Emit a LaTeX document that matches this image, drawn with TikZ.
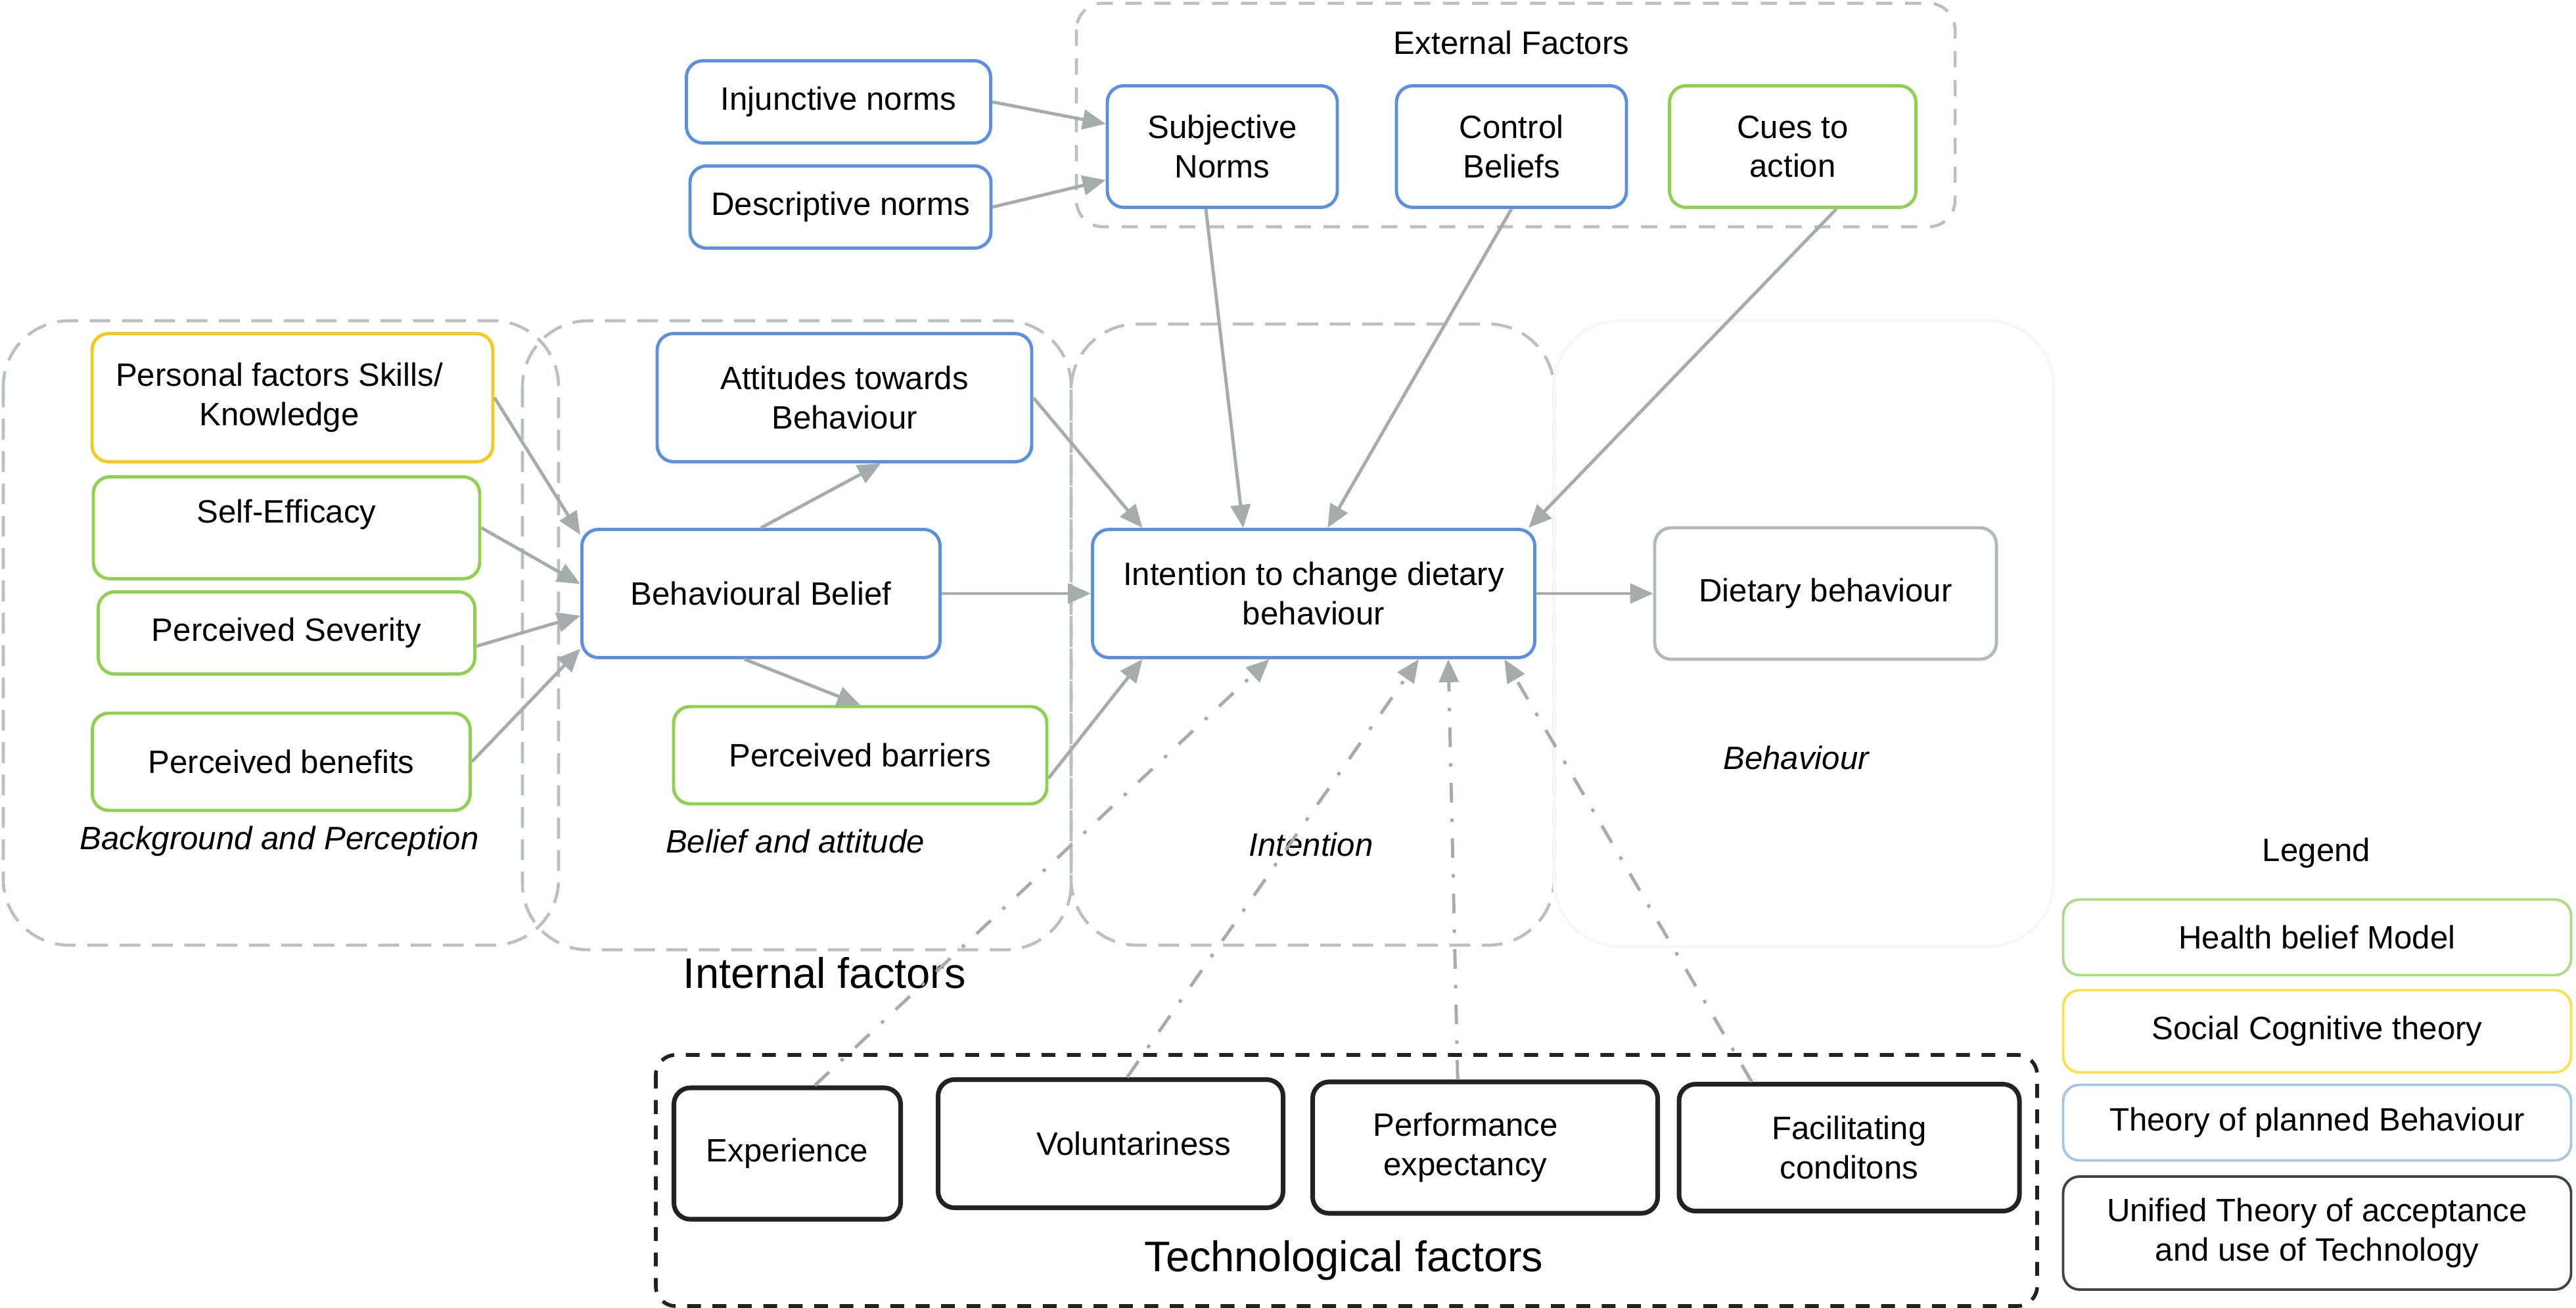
\documentclass[tikz,border=0pt]{standalone}
\usepackage{fontspec}
\setmainfont{Liberation Sans}
\usetikzlibrary{arrows.meta}
\definecolor{tpbblue}{HTML}{5B8FE0}
\definecolor{hbmgreen}{HTML}{8ED14F}
\definecolor{sctyellow}{HTML}{F7C81E}
\definecolor{linkgray}{HTML}{A6ABAB}
\definecolor{groupgray}{HTML}{BBBFBF}
\definecolor{behgray}{HTML}{B4B8B8}
\definecolor{utautblack}{HTML}{222222}
\definecolor{leggreen}{HTML}{A9DC85}
\definecolor{legyellow}{HTML}{FBE04A}
\definecolor{legblue}{HTML}{A3C5E8}
\definecolor{legdark}{HTML}{3D4444}

\begin{document}
\begin{tikzpicture}[
  >={Triangle[length=0.35cm,width=0.3cm]},
  every node/.style={font=\fontsize{14}{17}\selectfont},
  factor/.style={draw, rounded corners=0.25cm, line width=1.4pt, align=center, inner sep=2pt, fill=white},
  tpb/.style={factor, draw=tpbblue},
  hbm/.style={factor, draw=hbmgreen},
  sct/.style={factor, draw=sctyellow},
  beh/.style={factor, draw=behgray},
  utaut/.style={factor, draw=utautblack, line width=2pt},
  legbox/.style={factor, line width=1.1pt, minimum width=7.73cm},
  group/.style={draw=groupgray, line width=1.3pt, dash pattern=on 9pt off 5pt, rounded corners=1cm},
  grouplabel/.style={font=\fontsize{14}{17}\selectfont\itshape},
  biglabel/.style={font=\fontsize{18.5}{22}\selectfont},
  link/.style={draw=linkgray, line width=1.4pt, ->},
  techlink/.style={link, dash pattern=on 8.5pt off 7pt on 1.5pt off 7pt}
]
\useasboundingbox (0,0) rectangle (39.2,-19.9);

\draw[group, rounded corners=0.4cm, dash pattern=on 7pt off 5.5pt] (16.38,-0.05) rectangle (29.75,-3.45);
\draw[group] (0.05,-4.88) rectangle (8.5,-14.38);
\draw[group] (7.95,-4.88) rectangle (16.3,-14.45);
\draw[group] (16.3,-4.93) rectangle (23.65,-14.38);
\draw[draw=black!3, line width=1.3pt, rounded corners=1cm] (23.65,-4.88) rectangle (31.25,-14.4);
\draw[draw=utautblack, line width=1.6pt, dash pattern=on 6pt off 5pt, rounded corners=0.3cm] (9.98,-16.05) rectangle (31.0,-19.87);

\node (ext) at (23.0,-0.65) {External Factors};
\node[tpb, minimum width=4.63cm, minimum height=1.25cm] (inj) at (12.76,-1.55) {Injunctive norms};
\node[tpb, minimum width=4.58cm, minimum height=1.25cm] (desc) at (12.79,-3.15) {Descriptive norms};
\node[tpb, minimum width=3.5cm, minimum height=1.85cm] (subj) at (18.6,-2.23) {Subjective\\Norms};
\node[tpb, minimum width=3.5cm, minimum height=1.85cm] (ctrl) at (23.0,-2.23) {Control\\Beliefs};
\node[hbm, minimum width=3.75cm, minimum height=1.85cm] (cues) at (27.28,-2.23) {Cues to\\action};

\node[sct, minimum width=6.1cm, minimum height=1.95cm] (pers) at (4.45,-6.05) {Personal factors Skills/\hspace*{0.4cm}\\Knowledge\hspace*{0.4cm}};
\node[hbm, minimum width=5.88cm, minimum height=1.55cm, text depth=0.5cm] (self) at (4.36,-8.03) {Self-Efficacy};
\node[hbm, minimum width=5.73cm, minimum height=1.25cm] (sev) at (4.36,-9.63) {Perceived Severity};
\node[hbm, minimum width=5.75cm, minimum height=1.48cm] (ben) at (4.28,-11.59) {Perceived benefits};
\node[tpb, minimum width=5.7cm, minimum height=1.95cm] (att) at (12.85,-6.05) {Attitudes towards\\Behaviour};
\node[tpb, minimum width=5.45cm, minimum height=1.95cm] (bb) at (11.58,-9.03) {Behavioural Belief};
\node[hbm, minimum width=5.68cm, minimum height=1.48cm] (bar) at (13.09,-11.49) {Perceived barriers};
\node[tpb, minimum width=6.73cm, minimum height=1.95cm] (int) at (19.99,-9.03) {Intention to change dietary\\behaviour};
\node[beh, minimum width=5.2cm, minimum height=2.0cm] (diet) at (27.78,-9.03) {Dietary behaviour};

\node[grouplabel] (bgl) at (4.25,-12.8) {Background and Perception};
\node[grouplabel] (bal) at (12.1,-12.8) {Belief and attitude};
\node[grouplabel] (inl) at (19.95,-12.85) {Intention};
\node[grouplabel] (behl) at (27.33,-11.53) {Behaviour};
\node[biglabel] (internal) at (12.55,-14.8) {Internal factors};

\node[utaut, minimum width=3.45cm, minimum height=2.0cm] (exp) at (11.98,-17.55) {Experience};
\node[utaut, minimum width=5.25cm, minimum height=1.95cm] (vol) at (16.9,-17.4) {\hspace*{0.7cm}Voluntariness};
\node[utaut, minimum width=5.25cm, minimum height=2.0cm] (perf) at (22.6,-17.46) {Performance\hspace*{0.6cm}\\expectancy\hspace*{0.6cm}};
\node[utaut, minimum width=5.18cm, minimum height=1.93cm] (fac) at (28.14,-17.46) {Facilitating\\conditons};
\node[biglabel] (tech) at (20.45,-19.18) {Technological factors};

\node (legend) at (35.25,-12.98) {Legend};
\node[legbox, draw=leggreen, minimum height=1.15cm] (leg1) at (35.26,-14.26) {Health belief Model};
\node[legbox, draw=legyellow, minimum height=1.25cm] (leg2) at (35.26,-15.69) {Social Cognitive theory};
\node[legbox, draw=legblue, minimum height=1.15cm] (leg3) at (35.26,-17.08) {Theory of planned Behaviour};
\node[legbox, draw=legdark, minimum height=1.72cm] (leg4) at (35.26,-18.76) {Unified Theory of acceptance\\and use of Technology};

\path[link] (inj.east) -- (subj.169);
\path[link] (desc.east) -- (subj.196);
\path[link] ([xshift=-0.25cm]subj.south) -- (int.137);
\path[link] (ctrl.south) -- (int.78);
\path[link] (cues.-55) -- (int.17);
\path[link] (att.east) -- (int.159);
\path[link] (bar.-7) -- (int.201);
\path[link] (bb.east) -- (int.west);
\path[link] (int.east) -- (diet.west);
\path[link] (bb.north) -- (att.-61);
\path[link] (bb.256) -- (bar.north);
\path[link] (pers.east) -- (bb.162);
\path[link] (self.east) -- (bb.177);
\path[link] (sev.-4) -- (bb.187);
\path[link] (ben.east) -- (bb.197);

\path[techlink] (exp.68) -- (int.236);
\path[techlink] (vol.76) -- (int.-32);
\path[techlink] (perf.112) -- (int.-26);
\path[techlink] (fac.146) -- (int.-19);
\end{tikzpicture}
\end{document}
